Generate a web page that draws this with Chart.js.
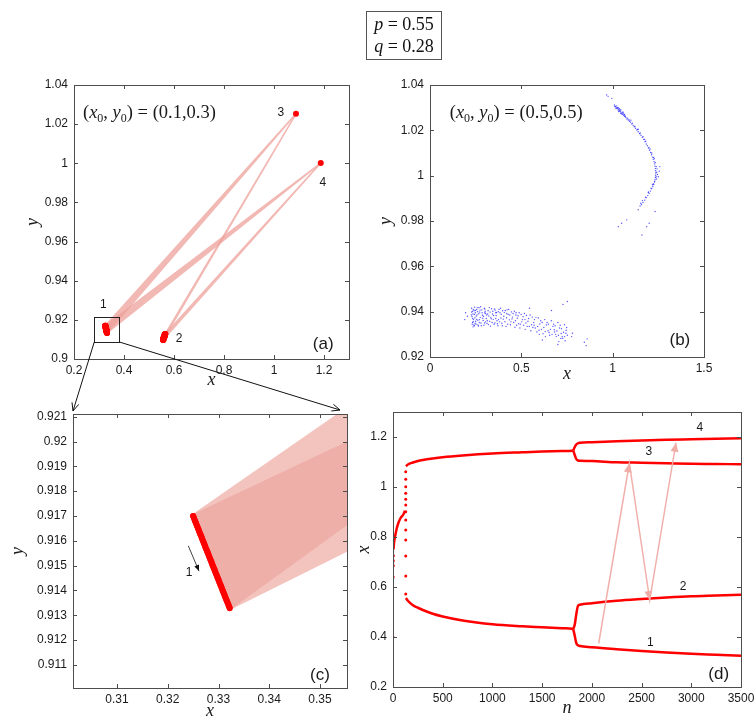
<!DOCTYPE html>
<html lang="en">
<head>
<meta charset="UTF-8">
<title>Period-4 orbit, p = 0.55, q = 0.28</title>
<script src="https://cdn.jsdelivr.net/npm/chart.js@4.4.0/dist/chart.umd.min.js"></script>
<style>
  body { margin: 0; background: #fff; }
  #page { position: relative; width: 754px; height: 720px; overflow: hidden; }
  #page canvas { position: absolute; left: 0; top: 0; }
  #params {
    position: absolute; left: 366px; top: 11px; width: 76px; height: 49px;
    border: 1px solid #555; box-sizing: border-box;
    font: 18px "Liberation Serif", serif; color: #111;
    text-align: center; line-height: 22px; padding-top: 1px;
  }
</style>
</head>
<body>
<div id="page">
  <canvas id="chartA" width="754" height="720"></canvas>
  <canvas id="chartB" width="754" height="720"></canvas>
  <canvas id="chartC" width="754" height="720"></canvas>
  <canvas id="chartD" width="754" height="720"></canvas>
  <canvas id="overlay" width="754" height="720"></canvas>
  <div id="params"><i>p</i> = 0.55<br><i>q</i> = 0.28</div>
</div>
<script>
// ---------- data: panels (a) and (c), the period-4 orbit clusters ----------
const c1x = [0.3250, 0.3252, 0.3254, 0.3256, 0.3258, 0.3260, 0.3262, 0.3264, 0.3266, 0.3268, 0.3270, 0.3272, 0.3274,
             0.3276, 0.3278, 0.3280, 0.3282, 0.3284, 0.3286, 0.3288, 0.3290, 0.3292, 0.3294, 0.3296, 0.3298, 0.3300,
             0.3302, 0.3304, 0.3306, 0.3308, 0.3310, 0.3312, 0.3314, 0.3316, 0.3318, 0.3320, 0.3322];
const c1y = [0.91700, 0.91690, 0.91679, 0.91669, 0.91659, 0.91649, 0.91638, 0.91628, 0.91618, 0.91607, 0.91597, 0.91587, 0.91576,
             0.91566, 0.91556, 0.91546, 0.91535, 0.91525, 0.91515, 0.91504, 0.91494, 0.91484, 0.91473, 0.91463, 0.91453, 0.91443,
             0.91432, 0.91422, 0.91412, 0.91401, 0.91391, 0.91381, 0.91370, 0.91360, 0.91350, 0.91340, 0.91329];
const c2x = [0.56500, 0.56475, 0.56450, 0.56425, 0.56400, 0.56375, 0.56350, 0.56325, 0.56300, 0.56275, 0.56250, 0.56225, 0.56200,
             0.56175, 0.56150, 0.56125, 0.56100, 0.56075, 0.56050, 0.56025, 0.56000, 0.55975, 0.55950, 0.55925, 0.55900, 0.55875,
             0.55850, 0.55825, 0.55800, 0.55775, 0.55750, 0.55725, 0.55700, 0.55675, 0.55650, 0.55625, 0.55600];
const c2y = [0.91280, 0.91271, 0.91263, 0.91254, 0.91246, 0.91237, 0.91228, 0.91220, 0.91211, 0.91203, 0.91194, 0.91185, 0.91177,
             0.91168, 0.91159, 0.91151, 0.91142, 0.91134, 0.91125, 0.91116, 0.91108, 0.91099, 0.91091, 0.91082, 0.91073, 0.91065,
             0.91056, 0.91048, 0.91039, 0.91030, 0.91022, 0.91013, 0.91004, 0.90996, 0.90987, 0.90979, 0.90970];
const c3 = [1.088, 1.0253];
const c4 = [1.187, 1.0001];
const zoomBox = [0.281, 0.381, 0.9087, 0.9213];   // x0, x1, y0, y1 of the box in (a)

// ---------- data: panel (b), orbit from (0.5, 0.5) ----------
const arcPts = [
  [0.967,1.0356],[0.975,1.0350],[0.995,1.0341],[1.010,1.0312],[1.015,1.0305],[1.020,1.0300],[1.025,1.0296],[1.030,1.0290],
  [1.034,1.0292],[1.038,1.0285],[1.042,1.0282],[1.047,1.0276],[1.052,1.0280],[1.055,1.0271],[1.060,1.0266],[1.066,1.0262],
  [1.072,1.0257],[1.078,1.0250],[1.085,1.0246],[1.092,1.0240],[1.098,1.0236],[1.105,1.0228],[1.112,1.0222],[1.118,1.0216],
  [1.125,1.0209],[1.132,1.0202],[1.140,1.0194],[1.147,1.0186],[1.155,1.0178],[1.162,1.0170],[1.170,1.0160],[1.177,1.0150],
  [1.184,1.0140],[1.190,1.0132],[1.196,1.0122],[1.202,1.0112],[1.208,1.0102],[1.213,1.0092],[1.218,1.0082],[1.222,1.0072],
  [1.226,1.0062],[1.229,1.0052],[1.232,1.0042],[1.234,1.0032],[1.235,1.0022],[1.236,1.0012],[1.235,1.0002],[1.234,0.9992],
  [1.232,0.9982],[1.229,0.9972],[1.225,0.9962],[1.220,0.9952],[1.214,0.9942],[1.207,0.9932],[1.200,0.9922],[1.192,0.9912],
  [1.184,0.9903],[1.175,0.9892],[1.166,0.9882],[1.158,0.9873],[1.150,0.9866],
  [1.030,1.0300],[1.045,1.0290],[1.065,1.0270],[1.100,1.0245],[1.140,1.0205],[1.175,1.0160],[1.205,1.0118],[1.228,1.0075],
  [1.243,1.0030],[1.245,1.0005],[1.240,0.9985],[1.218,0.9960],[1.195,0.9925],[1.022,1.0308],[1.036,1.0296],[1.058,1.0275],
  [1.012,1.0305],[1.018,1.0296],[1.027,1.0300],[1.033,1.0283],[1.040,1.0290],[1.044,1.0275],[1.050,1.0272],[1.057,1.0280],
  [1.063,1.0268],[1.070,1.0262],[1.082,1.0254],[1.090,1.0246],[1.108,1.0232],[1.122,1.0218],[1.136,1.0204],[1.151,1.0188],
  [1.166,1.0172],[1.181,1.0152],[1.199,1.0125],[1.214,1.0100],[1.224,1.0080],[1.233,1.0058],[1.239,1.0040],[1.241,1.0015],
  [1.238,0.9995],[1.230,0.9975],[1.222,0.9963],[1.210,0.9945],[1.196,0.9928],[1.180,0.9905],[1.163,0.9890],[1.154,0.9878],
  [1.258,1.0040],[1.250,0.9995],[1.255,1.0020],[1.232,0.9842],[1.186,0.9775],[1.160,0.9738],[1.049,0.9790],[1.031,0.9775],
  [1.077,0.9805],[1.140,0.9850],[1.200,0.9790]
];
const cloudPts = [
  [0.228,0.9415],[0.232,0.9402],[0.235,0.9390],[0.230,0.9378],[0.238,0.9365],[0.233,0.9352],[0.240,0.9341],[0.236,0.9333],
  [0.244,0.9420],[0.248,0.9395],[0.246,0.9372],[0.250,0.9358],[0.252,0.9345],[0.255,0.9410],[0.258,0.9386],[0.262,0.9362],
  [0.265,0.9337],[0.268,0.9417],[0.272,0.9398],[0.275,0.9375],[0.279,0.9350],[0.283,0.9408],[0.287,0.9384],[0.291,0.9361],
  [0.295,0.9340],[0.300,0.9412],[0.304,0.9392],[0.308,0.9370],[0.312,0.9348],[0.318,0.9404],[0.322,0.9381],[0.327,0.9357],
  [0.331,0.9336],[0.337,0.9413],[0.342,0.9390],[0.346,0.9366],[0.351,0.9345],[0.357,0.9407],[0.362,0.9383],[0.367,0.9360],
  [0.372,0.9338],[0.378,0.9410],[0.383,0.9395],[0.388,0.9372],[0.393,0.9349],[0.398,0.9404],[0.404,0.9380],[0.410,0.9356],
  [0.416,0.9335],[0.422,0.9408],[0.428,0.9388],[0.434,0.9364],[0.440,0.9342],[0.446,0.9399],[0.452,0.9376],[0.458,0.9352],
  [0.465,0.9331],[0.471,0.9395],[0.478,0.9371],[0.485,0.9347],[0.492,0.9328],[0.499,0.9388],[0.506,0.9365],[0.513,0.9340],
  [0.521,0.9322],[0.528,0.9383],[0.536,0.9358],[0.544,0.9335],[0.552,0.9316],[0.560,0.9376],[0.568,0.9352],[0.576,0.9328],
  [0.585,0.9310],[0.593,0.9372],[0.601,0.9346],[0.610,0.9322],[0.619,0.9303],[0.628,0.9365],[0.637,0.9341],[0.646,0.9316],
  [0.655,0.9296],[0.664,0.9360],[0.673,0.9335],[0.682,0.9310],[0.691,0.9290],[0.700,0.9352],[0.709,0.9328],[0.718,0.9304],
  [0.727,0.9283],[0.736,0.9342],[0.745,0.9318],[0.752,0.9296],[0.740,0.9272],[0.705,0.9268],
  [0.226,0.9385],[0.241,0.9404],[0.253,0.9381],[0.261,0.9400],[0.270,0.9352],[0.277,0.9422],[0.289,0.9371],[0.297,0.9415],
  [0.305,0.9355],[0.316,0.9390],[0.325,0.9418],[0.335,0.9369],[0.344,0.9402],[0.355,0.9350],[0.364,0.9396],[0.375,0.9365],
  [0.386,0.9415],[0.396,0.9338],[0.407,0.9397],[0.419,0.9373],[0.431,0.9410],[0.443,0.9355],[0.455,0.9392],[0.468,0.9360],
  [0.482,0.9382],[0.495,0.9345],[0.510,0.9378],[0.525,0.9350],[0.540,0.9370],[0.556,0.9342],[0.572,0.9365],[0.589,0.9335],
  [0.606,0.9360],[0.623,0.9330],[0.641,0.9352],[0.659,0.9322],[0.677,0.9345],[0.695,0.9315],[0.713,0.9340],[0.731,0.9309],
  [0.748,0.9330],[0.724,0.9290],[0.688,0.9300],[0.652,0.9308],[0.632,0.9290],
  [0.238,0.9410],[0.243,0.9388],[0.247,0.9349],[0.256,0.9366],[0.259,0.9418],[0.263,0.9341],[0.267,0.9391],[0.271,0.9365],
  [0.274,0.9407],[0.281,0.9338],[0.285,0.9395],[0.293,0.9380],[0.299,0.9350],[0.302,0.9402],[0.310,0.9385],[0.314,0.9360],
  [0.320,0.9343],[0.329,0.9398],[0.333,0.9375],[0.340,0.9352],[0.348,0.9383],[0.353,0.9412],[0.360,0.9370],[0.369,0.9347],
  [0.374,0.9400],[0.381,0.9355],[0.390,0.9388],[0.401,0.9367],[0.412,0.9405],[0.425,0.9345],[0.437,0.9385],[0.449,0.9368],
  [0.462,0.9402],[0.474,0.9340],[0.488,0.9395],[0.502,0.9355],[0.517,0.9392],[0.532,0.9335],[0.548,0.9385],[0.563,0.9330],
  [0.580,0.9375],[0.597,0.9318],[0.614,0.9352],[0.631,0.9312],[0.648,0.9345],[0.668,0.9300],[0.685,0.9338],[0.703,0.9296],
  [0.720,0.9325],[0.737,0.9290],[0.744,0.9305],[0.716,0.9282],[0.680,0.9320],[0.598,0.9300],[0.570,0.9340],[0.520,0.9365],
  [0.470,0.9385],[0.420,0.9392],[0.360,0.9395],[0.300,0.9395],[0.249,0.9405],[0.237,0.9356],[0.243,0.9338],[0.228,0.9398],
  [0.234,0.9370],[0.231,0.9345],
  [0.195,0.9395],[0.190,0.9365],[0.205,0.9380],[0.545,0.9415],[0.665,0.9405],[0.728,0.9432],[0.752,0.9445],[0.775,0.9290],
  [0.780,0.9305],[0.845,0.9265],[0.855,0.9250],[0.860,0.9280],[0.700,0.9255],[0.615,0.9275]
];

// ---------- data: panel (d), x_n against n ----------
const dotN = [0, 2, 3, 3, 4, 128, 128, 128, 128, 128, 128, 128, 128, 128, 128, 128, 128, 128];
const dotX = [0.40, 0.64, 0.685, 0.705, 0.725, 1.061, 1.031, 1.001, 0.975, 0.951, 0.928, 0.901, 0.868, 0.828, 0.788, 0.724, 0.644, 0.572];
const nPre = [5, 10, 20, 35, 53, 75, 104, 120];
const xPre = [0.75, 0.775, 0.80, 0.83, 0.855, 0.875, 0.89, 0.905];
const nBranch = [130, 150, 200, 250, 300, 400, 500, 700, 1000, 1300, 1500, 1700, 1800, 1813];
const xUpper = [1.083, 1.090, 1.098, 1.104, 1.108, 1.114, 1.119, 1.126, 1.134, 1.139, 1.142, 1.144, 1.145, 1.146];
const xLower = [0.556, 0.545, 0.527, 0.517, 0.508, 0.493, 0.482, 0.466, 0.451, 0.443, 0.439, 0.435, 0.433, 0.432];
const nFork = [1813, 1828, 1843, 1860, 1880, 2000, 2250, 2500, 2750, 3000, 3250, 3500];
const xB4 = [1.146, 1.160, 1.170, 1.175, 1.177, 1.179, 1.183, 1.186, 1.189, 1.191, 1.193, 1.195];
const xB3 = [1.145, 1.128, 1.112, 1.106, 1.105, 1.104, 1.099, 1.097, 1.095, 1.093, 1.092, 1.091];
const xB2 = [0.432, 0.450, 0.490, 0.524, 0.529, 0.535, 0.545, 0.552, 0.558, 0.563, 0.566, 0.569];
const xB1 = [0.431, 0.405, 0.376, 0.367, 0.364, 0.359, 0.351, 0.344, 0.338, 0.333, 0.329, 0.325];
const arrN = [2069, 2377, 2582, 2846];
const arrX = [0.375, 1.095, 0.548, 1.177];

// ---------- axes ----------
const axA = { x: [0.2, 1.3], y: [0.9, 1.04], xt: [0.2, 0.4, 0.6, 0.8, 1, 1.2], yt: [0.9, 0.92, 0.94, 0.96, 0.98, 1, 1.02, 1.04] };
const axB = { x: [0, 1.5], y: [0.92, 1.04], xt: [0, 0.5, 1, 1.5], yt: [0.92, 0.94, 0.96, 0.98, 1, 1.02, 1.04] };
const axC = { x: [0.30133, 0.35532], y: [0.91007, 0.92111], xt: [0.31, 0.32, 0.33, 0.34, 0.35],
              yt: [0.911, 0.912, 0.913, 0.914, 0.915, 0.916, 0.917, 0.918, 0.919, 0.92, 0.921] };
const axD = { x: [0, 3500], y: [0.2, 1.3], xt: [0, 500, 1000, 1500, 2000, 2500, 3000, 3500], yt: [0.2, 0.4, 0.6, 0.8, 1, 1.2] };

const W = 754, H = 720;
const SANS = '"Liberation Sans", Arial, sans-serif';
const SERIF = '"Liberation Serif", "Times New Roman", serif';
const INK = '#1a1a1a';

const pts = (xs, ys) => xs.map((v, i) => ({ x: v, y: ys[i] }));

function axis(range, ticks, title, horiz, size) {
  return {
    type: 'linear', min: range[0], max: range[1],
    grid: { display: false, drawTicks: false }, border: { display: false },
    ticks: { font: { family: SANS, size: 12 }, color: INK, padding: horiz ? 4 : 6,
             maxRotation: 0, autoSkip: false, callback: v => String(+v.toFixed(4)) },
    title: { display: true, text: title, color: INK, padding: 0,
             font: { family: SERIF, size: 18, style: 'italic', lineHeight: 1 } },
    afterBuildTicks: s => { s.ticks = ticks.map(v => ({ value: v })); },
    afterFit: s => {
      if (horiz) s.height = size; else s.width = size;
      s.paddingLeft = s.paddingRight = s.paddingTop = s.paddingBottom = 0;
    }
  };
}

// frame and inward tick marks, MATLAB style
const frame = {
  id: 'frame',
  afterDatasetsDraw(chart) {
    const { ctx, chartArea: a, scales: { x, y } } = chart;
    ctx.save();
    ctx.strokeStyle = '#4d4d4d';
    ctx.lineWidth = 1;
    ctx.beginPath();
    x.ticks.forEach((t, i) => {
      const p = Math.round(x.getPixelForTick(i)) + 0.5;
      ctx.moveTo(p, a.bottom); ctx.lineTo(p, a.bottom - 4);
      ctx.moveTo(p, a.top); ctx.lineTo(p, a.top + 4);
    });
    y.ticks.forEach((t, i) => {
      const p = Math.round(y.getPixelForTick(i)) + 0.5;
      ctx.moveTo(a.left, p); ctx.lineTo(a.left + 4, p);
      ctx.moveTo(a.right, p); ctx.lineTo(a.right - 4, p);
    });
    ctx.stroke();
    ctx.strokeRect(Math.round(a.left) + 0.5, Math.round(a.top) + 0.5,
                   Math.round(a.right - a.left), Math.round(a.bottom - a.top));
    ctx.restore();
  }
};

function label(chart, str, xv, yv, font) {
  const { ctx, scales: { x, y } } = chart;
  ctx.save();
  ctx.font = font; ctx.fillStyle = INK; ctx.textAlign = 'center'; ctx.textBaseline = 'middle';
  ctx.fillText(str, x.getPixelForValue(xv), y.getPixelForValue(yv));
  ctx.restore();
}

// "(x0, y0) = (...)" with italic letters and subscripts
function startLabel(chart, xv, yv, rest) {
  const { ctx, scales: { x, y } } = chart;
  const parts = [['(', 'n'], ['x', 'i'], ['0', 's'], [', ', 'n'], ['y', 'i'], ['0', 's'], [') = ' + rest, 'n']];
  let px = x.getPixelForValue(xv);
  const py = y.getPixelForValue(yv);
  ctx.save();
  ctx.fillStyle = INK; ctx.textBaseline = 'alphabetic'; ctx.textAlign = 'left';
  for (const [t, st] of parts) {
    ctx.font = st === 'i' ? 'italic 18.5px ' + SERIF : st === 's' ? '12px ' + SERIF : '18.5px ' + SERIF;
    ctx.fillText(t, px, st === 's' ? py + 4 : py);
    px += ctx.measureText(t).width;
  }
  ctx.restore();
}

function arrowHead(ctx, x0, y0, x1, y1, len, half, filled) {
  const a = Math.atan2(y1 - y0, x1 - x0);
  const bx = x1 - len * Math.cos(a), by = y1 - len * Math.sin(a);
  const ox = -Math.sin(a) * half, oy = Math.cos(a) * half;
  ctx.beginPath();
  ctx.moveTo(bx + ox, by + oy); ctx.lineTo(x1, y1); ctx.lineTo(bx - ox, by - oy);
  if (filled) { ctx.closePath(); ctx.fill(); } else ctx.stroke();
}

function panel(id, area, ax, titles, yW, xH, datasets, notes) {
  return new Chart(document.getElementById(id), {
    type: 'scatter',
    data: { datasets },
    options: {
      responsive: false, animation: false, events: [],
      layout: { padding: { left: area[0] - yW, top: area[1], right: W - area[2], bottom: H - area[3] - xH } },
      plugins: { legend: { display: false }, tooltip: { enabled: false } },
      scales: {
        x: axis(ax.x, ax.xt, titles[0], true, xH),
        y: axis(ax.y, ax.yt, titles[1], false, yW)
      }
    },
    plugins: [frame, { id: 'notes', afterDatasetsDraw: notes }]
  });
}

// ---------- orbit 1 -> 3 -> 2 -> 4 -> 1 ..., one dataset per leg ----------
const gap = { x: null, y: null };
const legs = [[], [], [], []];
c1x.forEach((v, i) => {
  const p1 = { x: v, y: c1y[i] }, p2 = { x: c2x[i], y: c2y[i] };
  const p3 = { x: c3[0], y: c3[1] }, p4 = { x: c4[0], y: c4[1] };
  legs[0].push(p1, p3, gap);
  legs[1].push(p3, p2, gap);
  legs[2].push(p2, p4, gap);
  legs[3].push(p4, p1, gap);
});
const orbitPts = pts(c1x, c1y).concat(pts(c2x, c2y), [{ x: c3[0], y: c3[1] }, { x: c4[0], y: c4[1] }]);

function orbitSets(lineColor, lineWidth) {
  const seg = { showLine: true, pointRadius: 0, borderColor: '#ff0000', borderWidth: 6,
                borderCapStyle: 'round', borderJoinStyle: 'round' };
  return [
    { data: orbitPts, pointRadius: 3, pointBackgroundColor: '#ff0000', pointBorderWidth: 0 },
    Object.assign({ data: pts(c1x, c1y) }, seg),
    Object.assign({ data: pts(c2x, c2y) }, seg)
  ].concat(legs.map(d => ({ data: d, showLine: true, spanGaps: false, pointRadius: 0,
                            borderColor: lineColor, borderWidth: lineWidth, borderJoinStyle: 'round' })));
}

// (a)
const chartA = panel('chartA', [74, 85, 349, 359], axA, ['x', 'y'], 50, 30,
  orbitSets('rgba(237,160,153,0.75)', 1.5), chart => {
  const { ctx, scales: { x, y } } = chart;
  ctx.save();
  ctx.strokeStyle = '#222'; ctx.lineWidth = 1;
  const bx0 = Math.round(x.getPixelForValue(zoomBox[0])) + 0.5, bx1 = Math.round(x.getPixelForValue(zoomBox[1])) + 0.5;
  const by0 = Math.round(y.getPixelForValue(zoomBox[2])) + 0.5, by1 = Math.round(y.getPixelForValue(zoomBox[3])) + 0.5;
  ctx.strokeRect(bx0, by1, bx1 - bx0, by0 - by1);
  ctx.restore();
  startLabel(chart, 0.236, 1.0232, '(0.1,0.3)');
  const f = '12px ' + SANS;
  label(chart, '3', 1.027, 1.0259, f);
  label(chart, '4', 1.195, 0.9901, f);
  label(chart, '1', 0.317, 0.9276, f);
  label(chart, '2', 0.62, 0.9104, f);
  label(chart, '(a)', 1.197, 0.9077, '17px ' + SANS);
});

// (b)
const chartB = panel('chartB', [430, 85, 704, 357], axB, ['x', 'y'], 53, 26, [
  { data: arcPts.map(p => ({ x: p[0], y: p[1] })).concat(cloudPts.map(p => ({ x: p[0], y: p[1] }))),
    pointRadius: 0.7, pointBackgroundColor: 'rgba(30,30,255,0.75)', pointBorderWidth: 0 }
], chart => {
  startLabel(chart, 0.108, 1.0254, '(0.5,0.5)');
  label(chart, '(b)', 1.368, 0.9272, '17px ' + SANS);
});

// (c)
const chartC = panel('chartC', [73, 414, 347, 688], axC, ['x', 'y'], 64, 32,
  orbitSets('rgba(237,165,158,0.67)', 3.5), chart => {
  const { ctx, scales: { x, y } } = chart;
  ctx.save();
  ctx.strokeStyle = '#111'; ctx.fillStyle = '#111'; ctx.lineWidth = 0.8;
  const x0 = x.getPixelForValue(0.32405), y0 = y.getPixelForValue(0.91580);
  const x1 = x.getPixelForValue(0.32616), y1 = y.getPixelForValue(0.91478);
  ctx.beginPath(); ctx.moveTo(x0, y0); ctx.lineTo(x1, y1); ctx.stroke();
  arrowHead(ctx, x0, y0, x1, y1, 6, 2.5, true);
  ctx.restore();
  label(chart, '1', 0.3242, 0.91473, '12px ' + SANS);
  label(chart, '(c)', 0.3500, 0.91059, '17px ' + SANS);
});

// (d)
const redLine = { showLine: true, pointRadius: 0, borderColor: '#ff0000', borderWidth: 2.5, cubicInterpolationMode: 'monotone' };
const chartD = panel('chartD', [393, 412, 741, 687], axD, ['n', 'x'], 38, 30, [
  { data: pts(arrN, arrX), showLine: true, pointRadius: 0, borderColor: 'rgba(240,172,166,0.95)', borderWidth: 1.5 },
  { data: pts(dotN, dotX), pointRadius: 1.5, pointBackgroundColor: '#ff0000', pointBorderWidth: 0 },
  Object.assign({ data: pts(nPre, xPre) }, redLine),
  Object.assign({ data: pts(nBranch, xUpper) }, redLine),
  Object.assign({ data: pts(nBranch, xLower) }, redLine),
  Object.assign({ data: pts(nFork, xB4) }, redLine),
  Object.assign({ data: pts(nFork, xB3) }, redLine),
  Object.assign({ data: pts(nFork, xB2) }, redLine),
  Object.assign({ data: pts(nFork, xB1) }, redLine)
], chart => {
  const { ctx, scales: { x, y } } = chart;
  ctx.save();
  ctx.fillStyle = 'rgba(240,172,166,1)';
  for (let i = 1; i < arrN.length; i++) {
    arrowHead(ctx, x.getPixelForValue(arrN[i - 1]), y.getPixelForValue(arrX[i - 1]),
              x.getPixelForValue(arrN[i]), y.getPixelForValue(arrX[i]), 9, 4, true);
  }
  ctx.restore();
  const f = '12px ' + SANS;
  label(chart, '4', 3085, 1.239, f);
  label(chart, '3', 2572, 1.141, f);
  label(chart, '2', 2917, 0.60, f);
  label(chart, '1', 2588, 0.377, f);
  label(chart, '(d)', 3276, 0.252, '17px ' + SANS);
});

// ---------- arrows from the box in (a) to panel (c) ----------
const ov = document.getElementById('overlay').getContext('2d');
const sa = chartA.scales, ca = chartC.chartArea;
const bl = [sa.x.getPixelForValue(zoomBox[0]), sa.y.getPixelForValue(zoomBox[2])];
const br = [sa.x.getPixelForValue(zoomBox[1]), sa.y.getPixelForValue(zoomBox[2])];
ov.strokeStyle = '#111'; ov.lineWidth = 1;
[[bl, [ca.left, ca.top - 3]], [br, [ca.right - 7, ca.top - 4]]].forEach(([s, e]) => {
  ov.beginPath(); ov.moveTo(s[0], s[1]); ov.lineTo(e[0], e[1]); ov.stroke();
  arrowHead(ov, s[0], s[1], e[0], e[1], 8, 3.5, false);
});
</script>
</body>
</html>
